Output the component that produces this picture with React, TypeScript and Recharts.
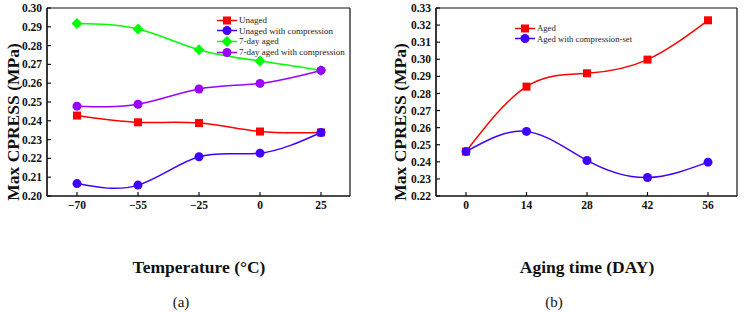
import React from 'react'
import { LineChart, Line, XAxis, YAxis, CartesianGrid } from 'recharts'

const temps = ['−70', '−55', '−25', '0', '25']
const unaged = [0.2428, 0.2392, 0.2388, 0.2343, 0.2338]
const unagedComp = [0.2066, 0.2058, 0.2209, 0.2228, 0.2338]
const aged7 = [0.2918, 0.2888, 0.2778, 0.2718, 0.2668]
const aged7Comp = [0.2478, 0.2488, 0.2569, 0.2599, 0.2668]
const ticksA = [0.2, 0.21, 0.22, 0.23, 0.24, 0.25, 0.26, 0.27, 0.28, 0.29, 0.3]

const days = ['0', '14', '28', '42', '56']
const aged = [0.246, 0.284, 0.2918, 0.2998, 0.3228]
const agedComp = [0.246, 0.2578, 0.2408, 0.2308, 0.2398]
const ticksB = [0.22, 0.23, 0.24, 0.25, 0.26, 0.27, 0.28, 0.29, 0.3, 0.31, 0.32, 0.33]

const RED = '#ff0000'
const BLUE = '#4000ff'
const GREEN = '#00ff00'
const PURPLE = '#9900ff'
const SERIF = '"Liberation Serif", "Times New Roman", serif'

const dataA = temps.map((t, i) => ({
  t, unaged: unaged[i], unagedComp: unagedComp[i], aged7: aged7[i], aged7Comp: aged7Comp[i],
}))
const dataB = days.map((d, i) => ({ d, aged: aged[i], agedComp: agedComp[i] }))

type Series = { key: string; name: string; color: string; shape: string }
const seriesA: Series[] = [
  { key: 'unaged', name: 'Unaged', color: RED, shape: 'square' },
  { key: 'unagedComp', name: 'Unaged with compression', color: BLUE, shape: 'circle' },
  { key: 'aged7', name: '7-day aged', color: GREEN, shape: 'diamond' },
  { key: 'aged7Comp', name: '7-day aged with compression', color: PURPLE, shape: 'circle' },
]
const seriesB: Series[] = [
  { key: 'aged', name: 'Aged', color: RED, shape: 'square' },
  { key: 'agedComp', name: 'Aged with compression-set', color: BLUE, shape: 'circle' },
]

function Marker({ cx, cy, shape, color }: { cx: number; cy: number; shape: string; color: string }) {
  if (shape === 'square') return <rect x={cx - 4} y={cy - 4} width={8} height={8} fill={color} />
  if (shape === 'diamond')
    return <polygon points={`${cx},${cy - 5.5} ${cx + 5.5},${cy} ${cx},${cy + 5.5} ${cx - 5.5},${cy}`} fill={color} />
  return <circle cx={cx} cy={cy} r={4.5} fill={color} />
}

function LegendBox({ items, fontSize, style }: { items: Series[]; fontSize: number; style: React.CSSProperties }) {
  return (
    <div style={{ position: 'absolute', fontFamily: SERIF, fontSize, color: '#222', ...style }}>
      {items.map(e => (
        <div key={e.key} style={{ display: 'flex', alignItems: 'center', height: 10.6, whiteSpace: 'nowrap' }}>
          <svg width={20} height={11}>
            <line x1={0} x2={20} y1={5.5} y2={5.5} stroke={e.color} strokeWidth={1.5} />
            <Marker cx={10} cy={5.5} shape={e.shape} color={e.color} />
          </svg>
          <span style={{ marginLeft: 2 }}>{e.name}</span>
        </div>
      ))}
    </div>
  )
}

const tickStyle = { fill: '#111', fontFamily: SERIF, fontWeight: 700, fontSize: 11.5 }
const axisLine = { stroke: '#111', strokeWidth: 1.2 }

const frameH = ({ offset }: any) => [offset.top, offset.top + offset.height]
const frameV = ({ offset }: any) => [offset.left, offset.left + offset.width]

const title: React.CSSProperties = {
  position: 'absolute', fontFamily: SERIF, fontWeight: 700, fontSize: 17.5, color: '#111', whiteSpace: 'nowrap',
}

function Panel({ data, xKey, series, domain, ticks, width, yWidth, right }: any) {
  return (
    <LineChart width={width} height={312} data={data} margin={{ top: 8, right, left: 0, bottom: 76 }}>
      <CartesianGrid stroke="#111" strokeWidth={1.2} horizontalCoordinatesGenerator={frameH}
        verticalCoordinatesGenerator={frameV} />
      <XAxis dataKey={xKey} padding={{ left: 30, right: 29 }} tick={tickStyle} tickSize={-4} tickMargin={9}
        tickLine={axisLine} axisLine={axisLine} height={40} />
      <YAxis domain={domain} ticks={ticks} tickFormatter={(v: number) => v.toFixed(2)} width={yWidth}
        tick={tickStyle} tickSize={-4} tickMargin={9} tickLine={axisLine} axisLine={axisLine} />
      {series.map((s: Series) => (
        <Line key={s.key} type="natural" dataKey={s.key} name={s.name} stroke={s.color} strokeWidth={1.5}
          dot={(p: any) => <Marker key={`${s.key}-${p.index}`} cx={p.cx} cy={p.cy} shape={s.shape} color={s.color} />}
          isAnimationActive={false} />
      ))}
    </LineChart>
  )
}

export default function App() {
  return (
    <div style={{ position: 'absolute', left: 0, top: 0, width: 745, height: 312, background: '#fff' }}>
      <div style={{ position: 'absolute', left: 0, top: 0 }}>
        <Panel data={dataA} xKey="t" series={seriesA} domain={[0.2, 0.3]} ticks={ticksA} width={360} yWidth={47} right={10} />
      </div>
      <div style={{ position: 'absolute', left: 372, top: 0 }}>
        <Panel data={dataB} xKey="d" series={seriesB} domain={[0.22, 0.33]} ticks={ticksB} width={372} yWidth={64} right={7} />
      </div>
      <LegendBox items={seriesA} fontSize={9} style={{ left: 217, top: 15 }} />
      <LegendBox items={seriesB} fontSize={8.7} style={{ left: 515, top: 23 }} />
      <div style={{ ...title, left: 199, top: 267, transform: 'translate(-50%, -50%)' }}>Temperature (°C)</div>
      <div style={{ ...title, left: 13, top: 122, transform: 'translate(-50%, -50%) rotate(-90deg)' }}>Max CPRESS (MPa)</div>
      <div style={{ ...title, left: 587, top: 267, transform: 'translate(-50%, -50%)' }}>Aging time (DAY)</div>
      <div style={{ ...title, left: 400, top: 122, transform: 'translate(-50%, -50%) rotate(-90deg)' }}>Max CPRESS (MPa)</div>
      <div style={{ ...title, fontWeight: 400, fontSize: 15, left: 181, top: 302, transform: 'translate(-50%, -50%)' }}>(a)</div>
      <div style={{ ...title, fontWeight: 400, fontSize: 15, left: 554, top: 302, transform: 'translate(-50%, -50%)' }}>(b)</div>
    </div>
  )
}
